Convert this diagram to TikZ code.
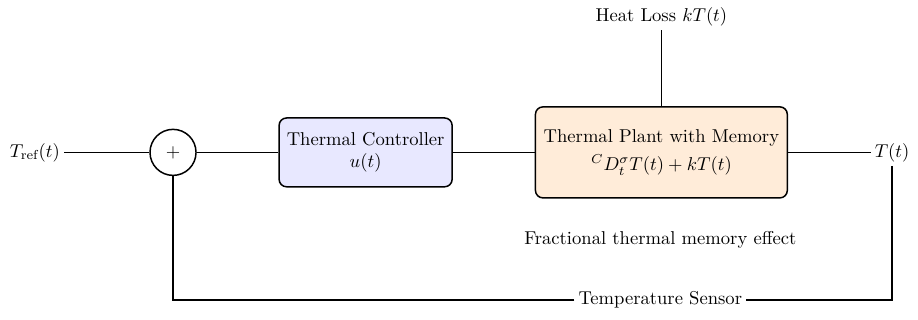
\documentclass[tikz,border=0pt]{standalone}
\usepackage{amsmath,amssymb}
\usetikzlibrary{positioning}

\begin{document}
\begin{tikzpicture}[
  ctrl/.style={draw,thick,rounded corners,minimum width=3.27cm,minimum height=1.30cm,align=center,fill=blue!9},
  plant/.style={draw,thick,rounded corners,minimum width=4.76cm,minimum height=1.72cm,align=center,fill=orange!15},
  sumnode/.style={draw,thick,circle,minimum size=0.87cm,inner sep=0pt},
  sig/.style={inner sep=2pt}]
\useasboundingbox (0,0) rectangle (17.35,6.03);
\node[sig] (ref) at (0.66,3.15) {$T_{\text{ref}}(t)$};
\node[sumnode] (sum) at (3.27,3.15) {$+$};
\node[ctrl] (ctl) at (6.91,3.15) {Thermal Controller\\$u(t)$};
\node[plant] (plt) at (12.50,3.15) {Thermal Plant with Memory\\[3pt]${}^{C}D_t^{\sigma}T(t)+kT(t)$};
\node[sig] (out) at (16.86,3.15) {$T(t)$};
\node[sig] (loss) at (12.50,5.71) {Heat Loss $kT(t)$};
\node (frac) at (12.48,1.49) {Fractional thermal memory effect};
\node[sig] (sens) at (12.48,0.36) {Temperature Sensor};
\draw[thick] (ref)--(sum);
\draw[thick] (sum)--(ctl);
\draw[thick] (ctl)--(plt);
\draw[thick] (plt)--(out);
\draw[thick] (loss)--(plt);
\draw[thick] (out) |- (sens);
\draw[thick] (sens) -| (sum);
\end{tikzpicture}
\end{document}
